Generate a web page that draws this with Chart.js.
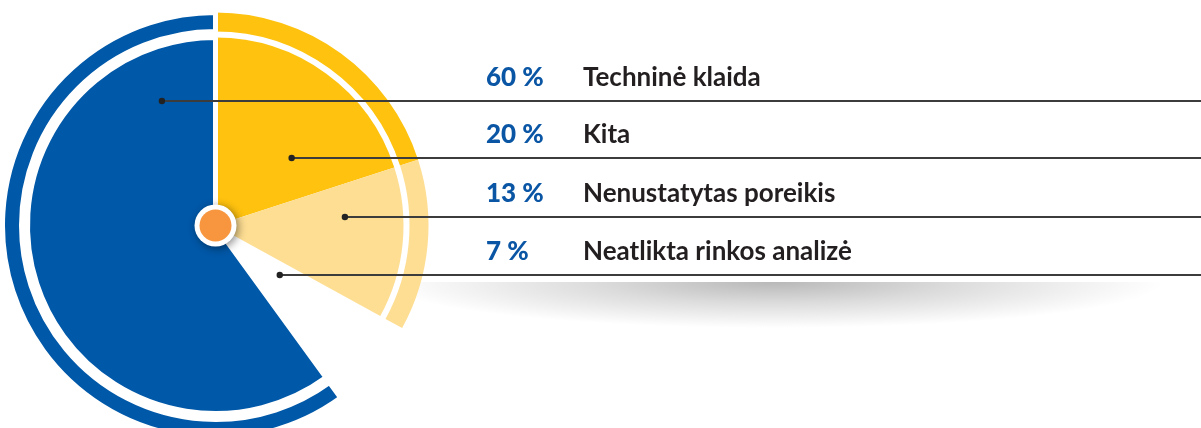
<!DOCTYPE html>
<html>
<head>
<meta charset="utf-8">
<script src="https://cdn.jsdelivr.net/npm/chart.js@4"></script>
<style>
  html, body { margin: 0; padding: 0; width: 1201px; height: 428px; overflow: hidden; background: #fff; }
  #wrap { position: absolute; left: 0; top: 0; width: 1201px; height: 441px; }
  #shadow {
    position: absolute; left: 415px; top: 282px; width: 780px; height: 46px;
    background: radial-gradient(ellipse 50% 100% at 46% 0%, rgba(0,0,0,0.28) 0%, rgba(0,0,0,0.14) 45%, rgba(0,0,0,0) 100%);
  }
  .row { position: absolute; font-family: Lato, "Open Sans", sans-serif; font-weight: 700; font-size: 26px; line-height: 26px; white-space: nowrap; }
  .pct { left: 486px; color: #0a56a5; font-weight: 900; }
  .lbl { left: 583px; color: #231f20; }
</style>
</head>
<body>
<div id="shadow"></div>
<div id="wrap"><canvas id="chart"></canvas></div>
<script>
const categories = ['Techninė klaida', 'Kita', 'Nenustatytas poreikis', 'Neatlikta rinkos analizė'];
const shares = [60, 20, 13, 7];
const percentLabels = ['60 %', '20 %', '13 %', '7 %'];
// clockwise from 12 o'clock
const ringOrder = [1, 2, 3, 0];

const sliceColors = ['#0058a8', '#ffc20f', '#fede93', 'rgba(0,0,0,0)'];
const sliceBorders = [5, 0, 0, 0];
// where each leader line starts inside its slice (fraction of angle, fraction of radius)
const anchors = [[0.892, 0.72], [0.675, 0.54], [0.30, 0.69], [0.34, 0.43]];

const ordered = arr => ringOrder.map(i => arr[i]);

// text rows
const rows = categories.map((name, i) => {
  const p = document.createElement('div');
  p.className = 'row pct';
  p.textContent = percentLabels[i];
  const l = document.createElement('div');
  l.className = 'row lbl';
  l.textContent = name;
  document.body.appendChild(p);
  document.body.appendChild(l);
  return [p, l];
});

const leaders = {
  id: 'leaders',
  afterDatasetsDraw(chart) {
    const ctx = chart.ctx;
    const pie = chart.getDatasetMeta(2).data;
    const c = pie[0];

    // centre knob
    ctx.save();
    ctx.shadowColor = 'rgba(0,0,0,0.45)';
    ctx.shadowBlur = 9;
    ctx.shadowOffsetX = 2;
    ctx.shadowOffsetY = 2;
    ctx.fillStyle = '#fff';
    ctx.beginPath();
    ctx.arc(c.x, c.y, 21, 0, Math.PI * 2);
    ctx.fill();
    ctx.restore();
    ctx.fillStyle = '#f7963f';
    ctx.beginPath();
    ctx.arc(c.x, c.y, 16, 0, Math.PI * 2);
    ctx.fill();

    categories.forEach((name, i) => {
      const arc = pie[ringOrder.indexOf(i)];
      const a = arc.startAngle + anchors[i][0] * (arc.endAngle - arc.startAngle);
      const r = anchors[i][1] * arc.outerRadius;
      const x = arc.x + Math.cos(a) * r;
      const y = Math.round(arc.y + Math.sin(a) * r);
      ctx.strokeStyle = '#3c3c3c';
      ctx.lineWidth = 2;
      ctx.beginPath();
      ctx.moveTo(x, y);
      ctx.lineTo(chart.width, y);
      ctx.stroke();
      ctx.fillStyle = '#222';
      ctx.beginPath();
      ctx.arc(x, y, 3.2, 0, Math.PI * 2);
      ctx.fill();
      rows[i][0].style.top = (y - 38) + 'px';
      rows[i][1].style.top = (y - 38) + 'px';
    });
  }
};

new Chart(document.getElementById('chart'), {
  type: 'pie',
  data: {
    labels: ordered(categories),
    datasets: [
      { data: ordered(shares), backgroundColor: ordered(sliceColors), borderColor: '#fff', borderWidth: ordered(sliceBorders), weight: 19 },
      { data: ordered(shares), backgroundColor: 'rgba(0,0,0,0)', borderWidth: 0, weight: 6 },
      { data: ordered(shares), backgroundColor: ordered(sliceColors), borderColor: '#fff', borderWidth: ordered(sliceBorders), weight: 188 }
    ]
  },
  options: {
    responsive: true,
    maintainAspectRatio: false,
    animation: false,
    events: [],
    layout: { padding: { left: 0, top: 10, right: 770, bottom: 0 } },
    plugins: { legend: { display: false }, tooltip: { enabled: false } }
  },
  plugins: [leaders]
});
</script>
</body>
</html>
